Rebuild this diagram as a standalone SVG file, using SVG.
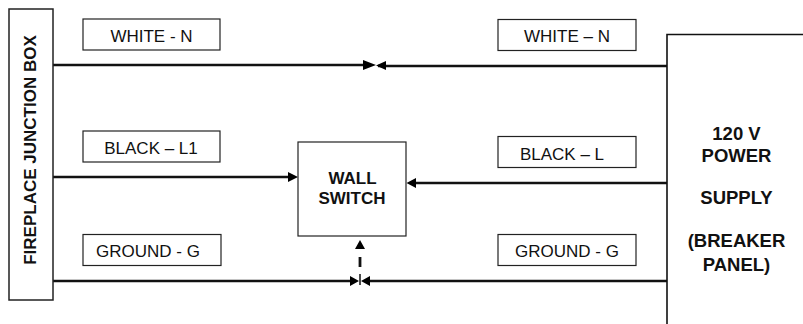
<svg xmlns="http://www.w3.org/2000/svg" width="803" height="324" viewBox="0 0 803 324">
<style>
text{font-family:"Liberation Sans",Arial,sans-serif;fill:#111;text-anchor:middle}
.l{font-size:17px}
.b{font-size:17px;font-weight:bold}
.p{font-size:18.500px;font-weight:bold}
.box{fill:#fff;stroke:#222;stroke-width:1.200}
.w{stroke:#111;stroke-width:2.400;fill:none}
.a{fill:#000}
</style>
<rect width="803" height="324" fill="#fff"/>
<g id="connectors">
<path class="w" d="M53 65H365M378 66H667M53 177H290M413 183H667M53 281H352M365 281H667"/>
<path class="w" d="M360 274V285" style="stroke-width:1.500"/>
<path class="w" d="M360 257V267" style="stroke-width:2.800"/>
<path class="a" d="M363 60L376 65L363 70ZM386 61L376 65.500L386 70ZM288 172L298 177L288 182ZM416 178L406.500 183L416 188ZM350 276L359 281L350 286ZM370 276L361 281L370 286ZM360 240L365 249H355Z"/>
</g>
<g id="fireplace-junction-box"><rect class="box" x="9" y="9" width="44" height="291" style="stroke-width:1.500"/><text class="b" transform="translate(36 150) rotate(-90)">FIREPLACE JUNCTION BOX</text></g>
<g id="label-white-n-left"><rect class="box" x="83" y="19" width="137" height="31"/><text class="l" x="151.500" y="41.500">WHITE - N</text></g>
<g id="label-black-l1"><rect class="box" x="83" y="131" width="137" height="31"/><text class="l" x="151" y="154">BLACK – L1</text></g>
<g id="label-ground-left"><rect class="box" x="83" y="234.500" width="138" height="31"/><text class="l" x="148" y="257">GROUND - G</text></g>
<g id="wall-switch"><rect class="box" x="298" y="142" width="108" height="94"/><text class="b" x="352.500" y="184">WALL</text><text class="b" x="352" y="204">SWITCH</text></g>
<g id="label-white-n-right"><rect class="box" x="498" y="19.500" width="138" height="31"/><text class="l" x="567" y="41.500">WHITE – N</text></g>
<g id="label-black-l"><rect class="box" x="498" y="136.500" width="138" height="31"/><text class="l" x="562" y="160">BLACK – L</text></g>
<g id="label-ground-right"><rect class="box" x="498" y="234.500" width="138" height="31"/><text class="l" x="567" y="257">GROUND - G</text></g>
<g id="power-supply"><path class="w" style="stroke-width:1.600" d="M803 34.500H667V324"/>
<text class="p" x="736.500" y="140">120 V</text>
<text class="p" x="736.500" y="162">POWER</text>
<text class="p" x="736.500" y="204">SUPPLY</text>
<text class="p" x="736.500" y="246.500">(BREAKER</text>
<text class="p" x="736.500" y="270.500">PANEL)</text></g>
</svg>
